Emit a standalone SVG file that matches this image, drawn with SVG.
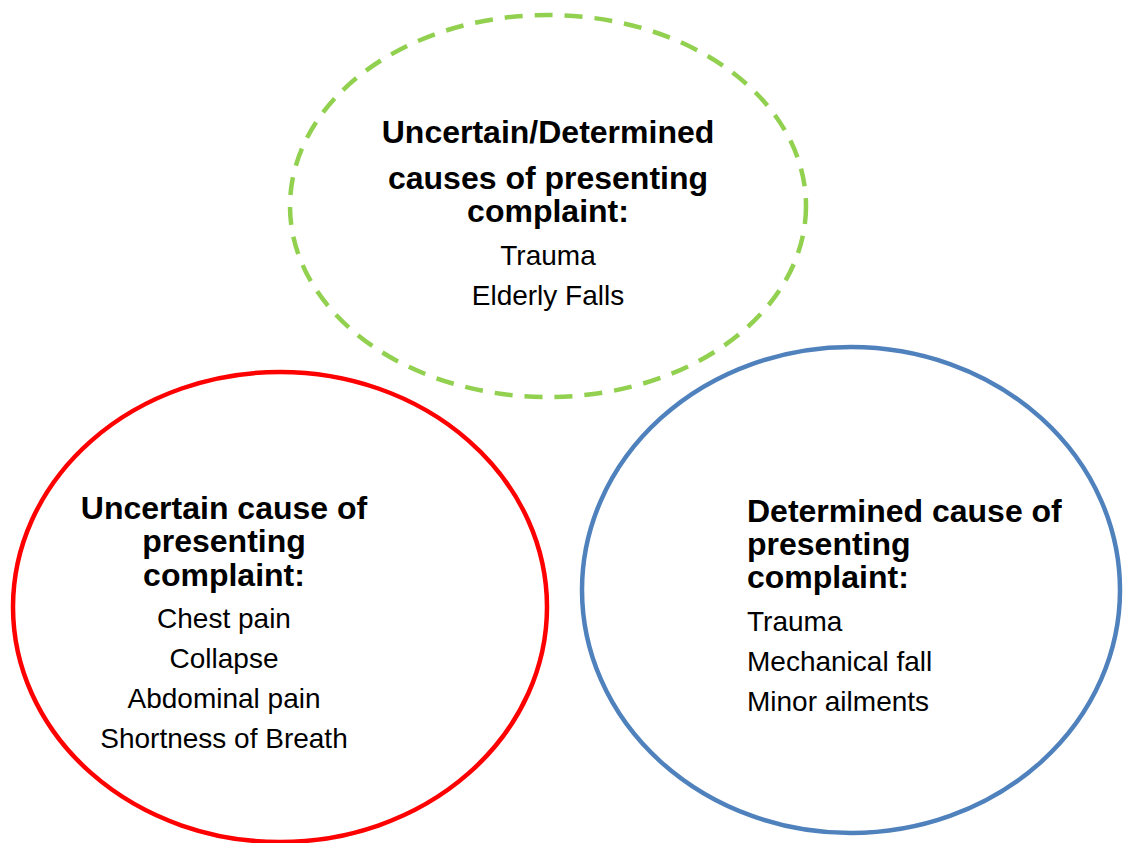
<svg xmlns="http://www.w3.org/2000/svg" width="1128" height="843" viewBox="0 0 1128 843">
  <style>
    .ring { fill: none; stroke-width: 4.5; }
    .green { stroke: #92D050; stroke-dasharray: 18 12; }
    .red { stroke: #FF0000; }
    .blue { stroke: #4F81BD; }
    .title { font-family: "Liberation Sans", Arial, sans-serif; font-weight: bold; font-size: 32px; fill: #000; }
    .item { font-family: "Liberation Sans", Arial, sans-serif; font-size: 28px; fill: #000; }
    .mid { text-anchor: middle; }
  </style>
  <rect width="1128" height="843" fill="#fff"/>

  <g id="connectors"></g>

  <!-- mixed category: uncertain or determined cause -->
  <g id="node-mixed">
    <ellipse class="ring green" cx="548" cy="206" rx="258" ry="191"/>
    <text class="title mid" x="548" y="143">Uncertain/Determined</text>
    <text class="title mid" x="548" y="189">causes of presenting</text>
    <text class="title mid" x="548" y="222">complaint:</text>
    <text class="item mid" x="548" y="265">Trauma</text>
    <text class="item mid" x="548" y="305">Elderly Falls</text>
  </g>

  <!-- uncertain cause -->
  <g id="node-uncertain">
    <ellipse class="ring red" cx="280" cy="607" rx="267" ry="235"/>
    <text class="title mid" x="224" y="519">Uncertain cause of</text>
    <text class="title mid" x="224" y="552">presenting</text>
    <text class="title mid" x="224" y="586">complaint:</text>
    <text class="item mid" x="224" y="628">Chest pain</text>
    <text class="item mid" x="224" y="668">Collapse</text>
    <text class="item mid" x="224" y="708">Abdominal pain</text>
    <text class="item mid" x="224" y="748">Shortness of Breath</text>
  </g>

  <!-- determined cause -->
  <g id="node-determined">
    <ellipse class="ring blue" cx="851" cy="590" rx="269" ry="243"/>
    <text class="title" x="747" y="522">Determined cause of</text>
    <text class="title" x="747" y="555">presenting</text>
    <text class="title" x="747" y="588">complaint:</text>
    <text class="item" x="747" y="631">Trauma</text>
    <text class="item" x="747" y="671">Mechanical fall</text>
    <text class="item" x="747" y="711">Minor ailments</text>
  </g>
</svg>
